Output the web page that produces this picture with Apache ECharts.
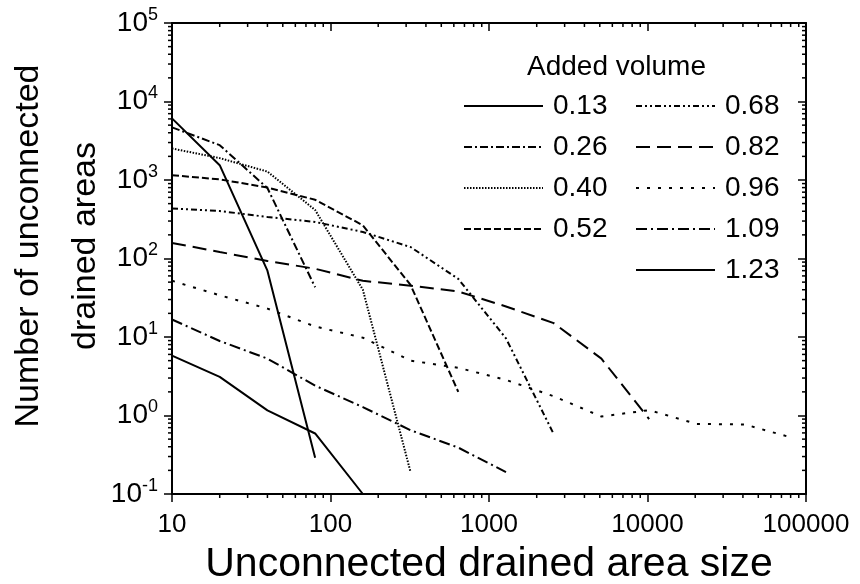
<!DOCTYPE html>
<html>
<head>
<meta charset="utf-8">
<script src="https://cdn.jsdelivr.net/npm/echarts@6/dist/echarts.min.js"></script>
<style>
html,body{margin:0;padding:0;background:#fff;}
#chart{width:860px;height:584px;}
</style>
</head>
<body>
<div id="chart"></div>
<script>
// drained area sizes (doubling bins)
var sizes = [10, 20, 40, 80, 160, 320, 640, 1280, 2560, 5120, 10240, 20480, 40960, 81920];
// number of areas per added volume
var v013 = [6090, 1545, 70, 0.29];
var v026 = [4680, 2780, 790, 43];
var v040 = [2520, 1900, 1280, 415, 40, 0.19];
var v052 = [1150, 1020, 800, 560, 265, 46, 2.0];
var v068 = [433, 403, 338, 292, 218, 140, 55, 9.6, 0.58];
var v082 = [158, 121, 93, 74, 52, 45, 38, 24.5, 15, 5.3, 0.9];
var v096 = [52, 34, 23, 13.6, 9.8, 5.0, 4.05, 2.84, 1.76, 0.97, 1.17, 0.78, 0.77, 0.52];
var v109 = [16.7, 8.9, 5.3, 2.4, 1.28, 0.65, 0.39, 0.19];
var v123 = [5.8, 3.1, 1.16, 0.59, 0.1];

var volNames = ['0.13', '0.26', '0.40', '0.52', '0.68', '0.82', '0.96', '1.09', '1.23'];
var volValues = [v013, v026, v040, v052, v068, v082, v096, v109, v123];
var dashes = ['solid', [8, 3, 2, 3], [1.5, 1.5], [7, 3], [6, 3, 2, 3, 2, 3], [14, 7], [3, 8], [11, 4, 2, 4], 'solid'];

var xMin = 10, xMax = 100000, yMin = 0.1, yMax = 100000;
var xDecades = [10, 100, 1000, 10000];
var yDecades = [0.1, 1, 10, 100, 1000, 10000];

var font = "'Liberation Sans', Arial, sans-serif";

function pairs(vals) {
	var out = [];
	for (var i = 0; i < vals.length; i++) out.push([sizes[i], vals[i]]);
	return out;
}
function minors(decs) {
	var out = [];
	decs.forEach(function (d) {
		for (var k = 2; k <= 9; k++) out.push(d * k);
	});
	return out;
}

var series = [];
volNames.forEach(function (n, i) {
	series.push({
		name: n,
		type: 'line',
		data: pairs(volValues[i]),
		symbol: 'none',
		silent: true,
		lineStyle: { color: '#000', width: 2, type: dashes[i] },
		itemStyle: { color: '#000' }
	});
});

// log minor ticks on all four sides
series.push({
	name: 'xminor',
	type: 'custom',
	silent: true,
	clip: false,
	data: minors(xDecades).map(function (v) { return [v, yMin]; }),
	renderItem: function (params, api) {
		var v = api.value(0);
		var b = api.coord([v, yMin]);
		var t = api.coord([v, yMax]);
		return {
			type: 'group',
			children: [
				{ type: 'line', shape: { x1: b[0], y1: b[1], x2: b[0], y2: b[1] + 4 }, style: { stroke: '#000', lineWidth: 1.5 } },
				{ type: 'line', shape: { x1: t[0], y1: t[1], x2: t[0], y2: t[1] + 4 }, style: { stroke: '#000', lineWidth: 1.5 } }
			]
		};
	}
});
series.push({
	name: 'yminor',
	type: 'custom',
	silent: true,
	clip: false,
	data: minors(yDecades).map(function (v) { return [xMin, v]; }),
	renderItem: function (params, api) {
		var v = api.value(1);
		var l = api.coord([xMin, v]);
		var r = api.coord([xMax, v]);
		return {
			type: 'group',
			children: [
				{ type: 'line', shape: { x1: l[0] - 4, y1: l[1], x2: l[0], y2: l[1] }, style: { stroke: '#000', lineWidth: 1.5 } },
				{ type: 'line', shape: { x1: r[0] - 4, y1: r[1], x2: r[0], y2: r[1] }, style: { stroke: '#000', lineWidth: 1.5 } }
			]
		};
	}
});

var axisLine = { show: true, lineStyle: { color: '#000', width: 2 } };
var legendBase = {
	orient: 'vertical',
	top: 92,
	padding: 0,
	itemWidth: 79,
	itemHeight: 14,
	itemGap: 13,
	selectedMode: false,
	itemStyle: { opacity: 0 },
	textStyle: { fontFamily: font, fontSize: 28, color: '#000', padding: [0, 0, 0, 5] }
};

var chart = echarts.init(document.getElementById('chart'));
var option = {
	animation: false,
	textStyle: { fontFamily: font, color: '#000' },
	grid: { left: 172, right: 54, top: 23, bottom: 90, outerBoundsMode: 'none' },
	title: {
		text: 'Added volume',
		left: 522,
		top: 48,
		textStyle: { fontFamily: font, fontSize: 28, fontWeight: 'normal', color: '#000' }
	},
	// y axis title, two lines, rotated
	graphic: [{
		type: 'text',
		x: 57,
		y: 246,
		rotation: Math.PI / 2,
		silent: true,
		style: {
			text: 'Number of unconnected\ndrained areas',
			font: "34px 'Liberation Sans', Arial, sans-serif",
			fill: '#000',
			align: 'center',
			verticalAlign: 'middle',
			lineHeight: 57
		}
	}],
	legend: [
		Object.assign({}, legendBase, { data: volNames.slice(0, 4), left: 463 }),
		Object.assign({}, legendBase, { data: volNames.slice(4), left: 635 })
	],
	xAxis: [
		{
			type: 'log',
			logBase: 10,
			min: xMin,
			max: xMax,
			name: 'Unconnected drained area size',
			nameLocation: 'middle',
			nameGap: 50,
			nameTextStyle: { fontFamily: font, fontSize: 41, color: '#000' },
			axisLine: axisLine,
			axisTick: { show: true, inside: false, length: 8, lineStyle: { color: '#000', width: 1.5 } },
			axisLabel: {
				fontFamily: font, fontSize: 26, color: '#000', margin: 18,
				formatter: function (v) { return String(Math.round(v)); }
			},
			splitLine: { show: false }
		},
		{
			type: 'log',
			logBase: 10,
			min: xMin,
			max: xMax,
			position: 'top',
			axisLine: axisLine,
			axisTick: { show: true, inside: true, length: 8, lineStyle: { color: '#000', width: 1.5 } },
			axisLabel: { show: false },
			splitLine: { show: false }
		}
	],
	yAxis: [
		{
			type: 'log',
			logBase: 10,
			min: yMin,
			max: yMax,
			axisLine: axisLine,
			axisTick: { show: true, inside: false, length: 8, lineStyle: { color: '#000', width: 1.5 } },
			axisLabel: {
				margin: 14,
				formatter: function (v) {
					var e = Math.round(Math.log10(v));
					return '{b|10}{s|' + e + '}';
				},
				rich: {
					b: { fontFamily: font, fontSize: 28, color: '#000' },
					s: { fontFamily: font, fontSize: 18, color: '#000', padding: [0, 0, 16, 0] }
				}
			},
			splitLine: { show: false }
		},
		{
			type: 'log',
			logBase: 10,
			min: yMin,
			max: yMax,
			position: 'right',
			axisLine: axisLine,
			axisTick: { show: true, inside: true, length: 8, lineStyle: { color: '#000', width: 1.5 } },
			axisLabel: { show: false },
			splitLine: { show: false }
		}
	],
	series: series
};
chart.setOption(option);
</script>
</body>
</html>
